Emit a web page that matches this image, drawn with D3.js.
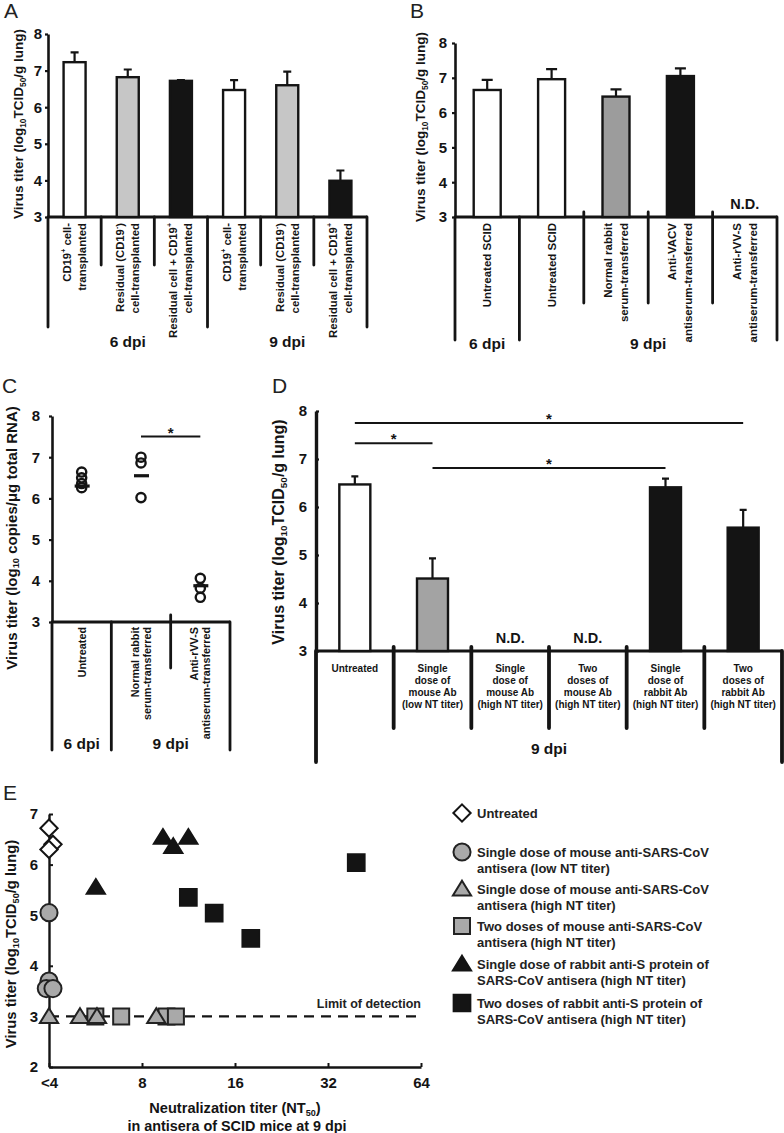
<!DOCTYPE html>
<html>
<head>
<meta charset="utf-8">
<title>Virus titer panels</title>
<script src="https://cdn.jsdelivr.net/npm/d3@7"></script>
<style>
  body{margin:0;background:#fff;}
  svg{display:block;font-family:"Liberation Sans",Arial,sans-serif;}
</style>
</head>
<body>
<div id="fig"></div>
<script>
// ---------- data ----------
// A
var aLabels = [["CD19^{+} cell-","transplanted"],["Residual (CD19^{-})","cell-transplanted"],["Residual cell + CD19^{+}","cell-transplanted"],
               ["CD19^{+} cell-","transplanted"],["Residual (CD19^{-})","cell-transplanted"],["Residual cell + CD19^{+}","cell-transplanted"]];
var aValues = [7.23, 6.82, 6.72, 6.47, 6.60, 3.99];
var aErrors = [7.50, 7.03, 6.74, 6.74, 6.97, 4.27];
var aKinds  = ["open","light","dark","open","light","dark"];
var aGroups = [["6 dpi",3],["9 dpi",3]];
// B
var bLabels = [["Untreated SCID"],["Untreated SCID"],["Normal rabbit","serum-transferred"],["Anti-VACV","antiserum-transferred"],["Anti-rVV-S","antiserum-transferred"]];
var bValues = [6.65, 6.96, 6.46, 7.05, null];
var bErrors = [6.94, 7.25, 6.67, 7.27, null];
var bKinds  = ["open","open","mid","dark","none"];
var bGroups = [["6 dpi",1],["9 dpi",4]];
// C
var cLabels = [["Untreated"],["Normal rabbit","serum-transferred"],["Anti-rVV-S","antiserum-transferred"]];
var cPoints = [[6.64, 6.50, 6.36, 6.26],[7.00, 6.86, 6.02],[4.06, 3.82, 3.60]];
var cMeans  = [6.30, 6.55, 3.88];
var cGroups = [["6 dpi",1],["9 dpi",2]];
var cSig    = [[1, 2, 7.5]];
// D
var dLabels = [["Untreated"],["Single","dose of","mouse Ab","(low NT titer)"],["Single","dose of","mouse Ab","(high NT titer)"],
               ["Two","doses of","mouse Ab","(high NT titer)"],["Single","dose of","rabbit Ab","(high NT titer)"],["Two","doses of","rabbit Ab","(high NT titer)"]];
var dValues = [6.47, 4.51, null, null, 6.41, 5.57];
var dErrors = [6.64, 4.93, null, null, 6.59, 5.94];
var dKinds  = ["open","mid","none","none","dark","dark"];
var dGroups = [["9 dpi",6]];
var dSig    = [[0, 5, 7.75],[0, 1, 7.33],[1, 4, 6.81]];
// E  (x = NT50, "<4" plotted at 4)
var eTicks      = [4, 8, 16, 32, 64];
var eTickLabels = ["<4","8","16","32","64"];
var eUntreated    = [[4, 6.72],[4.12, 6.40],[4, 6.30]];
var eMouseLow     = [[4, 5.05],[4, 3.70],[3.92, 3.55],[4.12, 3.55]];
var eMouseSingle  = [[4, 3.0],[5.04, 3.0],[5.72, 3.0],[8.9, 3.0]];
var eMouseTwo     = [[5.65, 3.0],[6.85, 3.0],[9.6, 3.0],[10.3, 3.0]];
var eRabbitSingle = [[9.35, 6.54],[10.1, 6.36],[11.3, 6.54],[5.67, 5.55]];
var eRabbitTwo    = [[11.3, 5.35],[13.7, 5.04],[18.0, 4.54],[39.5, 6.04]];
var eLimit = 3;
var eLegend = [["Untreated"],
               ["Single dose of mouse anti-SARS-CoV","antisera (low NT titer)"],
               ["Single dose of mouse anti-SARS-CoV","antisera (high NT titer)"],
               ["Two doses of mouse anti-SARS-CoV","antisera (high NT titer)"],
               ["Single dose of rabbit anti-S protein of","SARS-CoV antisera (high NT titer)"],
               ["Two doses of rabbit anti-S protein of","SARS-CoV antisera (high NT titer)"]];

// ---------- drawing ----------
var ink = "#141414";
var svg = d3.select("#fig").append("svg").attr("width", 784).attr("height", 1133);

// text with ^{sup} and _{sub}
function rich(t, str) {
  var re = /([_^])\{([^}]*)\}/g, last = 0, m;
  while ((m = re.exec(str))) {
    if (m.index > last) t.append("tspan").text(str.slice(last, m.index));
    t.append("tspan").attr("baseline-shift", m[1] == "^" ? "super" : "sub")
      .style("font-size", "0.62em").text(m[2]);
    last = re.lastIndex;
  }
  if (last < str.length) t.append("tspan").text(str.slice(last));
  return t;
}

function letter(x, y, s) {
  svg.append("text").attr("x", x).attr("y", y).attr("font-size", 21).attr("fill", "#222").text(s);
}

function frame(g) {
  var n = g.labels.length;
  var x = d3.scaleBand().domain(d3.range(n)).range([g.left, g.right]);
  var y = d3.scaleLinear().domain([3, 8]).range([g.base, g.top]);
  var p = svg.append("g");
  var edges = [0];
  g.groups.forEach(function(d){ edges.push(edges[edges.length - 1] + d[1]); });
  var bx = function(i){ return i < n ? x(i) : g.right; };

  p.selectAll(".sep").data(d3.range(n + 1)).enter().append("line")
    .attr("x1", bx).attr("x2", bx)
    .attr("y1", function(i){ return edges.indexOf(i) >= 0 ? g.base : g.sepTop; })
    .attr("y2", function(i){ return edges.indexOf(i) >= 0 ? g.longEnd : g.shortEnd; })
    .attr("stroke", ink).attr("stroke-width", g.sepW).attr("stroke-linecap", "round");
  p.append("line").attr("x1", g.left).attr("x2", g.right).attr("y1", g.base).attr("y2", g.base)
    .attr("stroke", ink).attr("stroke-width", 3);

  var ax = p.append("g").attr("transform", "translate(" + g.left + ",0)")
    .call(d3.axisLeft(y).ticks(5).tickSize(g.tick).tickPadding(g.pad).tickSizeOuter(0));
  ax.attr("font-family", null).attr("font-size", 15).attr("font-weight", "bold");
  ax.select(".domain").attr("stroke", ink).attr("stroke-width", g.axisW);
  ax.selectAll(".tick line").attr("stroke", ink).attr("stroke-width", 2.2);
  ax.selectAll(".tick text").attr("fill", ink);

  rich(p.append("text").attr("transform", "translate(" + g.titleX + "," + g.titleY + ") rotate(-90)")
    .attr("text-anchor", "middle").attr("dominant-baseline", "central")
    .attr("font-size", g.titleSize).attr("font-weight", "bold").attr("fill", ink), g.title);

  // category labels
  g.labels.forEach(function(lines, i){
    var c = x(i) + x.bandwidth() / 2, k = lines.length;
    lines.forEach(function(s, j){
      var t = p.append("text").attr("font-size", g.labelSize).attr("font-weight", "bold")
        .attr("fill", ink).attr("dominant-baseline", "central");
      if (g.rotate) {
        t.attr("transform", "translate(" + (c + (j - (k - 1) / 2) * g.lineGap) + "," + g.labelTop + ") rotate(-90)")
          .attr("text-anchor", "end");
      } else {
        t.attr("x", c).attr("y", g.labelTop + j * g.lineGap).attr("text-anchor", "middle");
      }
      rich(t, s);
    });
  });

  // group labels
  g.groups.forEach(function(d, i){
    var x0 = bx(edges[i]), x1 = bx(edges[i + 1]);
    p.append("text").attr("x", (x0 + x1) / 2).attr("y", g.groupY).attr("text-anchor", "middle")
      .attr("dominant-baseline", "central").attr("font-size", 15.5).attr("font-weight", "bold")
      .attr("fill", ink).text(d[0]);
  });
  return {x: x, y: y, p: p};
}

function bars(f, g, values, errors, kinds) {
  var fill = {open: "#fff", light: "#c6c6c6", mid: g.midFill || "#a3a3a3", dark: ink};
  var cx = function(i){ return f.x(i) + f.x.bandwidth() / 2; };
  var idx = d3.range(values.length).filter(function(i){ return values[i] != null; });
  f.p.selectAll(".err").data(idx).enter().append("path")
    .attr("d", function(i){
      var yt = f.y(errors[i]);
      return "M" + cx(i) + "," + f.y(values[i]) + "V" + yt + "M" + (cx(i) - g.cap / 2) + "," + yt + "H" + (cx(i) + g.cap / 2);
    })
    .attr("stroke", ink).attr("stroke-width", 2.2).attr("fill", "none");
  f.p.selectAll(".bar").data(idx).enter().append("rect")
    .attr("x", function(i){ return cx(i) - g.barW / 2; })
    .attr("width", g.barW)
    .attr("y", function(i){ return f.y(values[i]); })
    .attr("height", function(i){ return f.y(3) - f.y(values[i]); })
    .attr("fill", function(i){ return fill[kinds[i]]; })
    .attr("stroke", ink).attr("stroke-width", 2.4);
  var nd = d3.range(values.length).filter(function(i){ return values[i] == null; });
  f.p.selectAll(".nd").data(nd).enter().append("text")
    .attr("x", cx).attr("y", f.y(3) - 8).attr("text-anchor", "middle")
    .attr("font-size", 14.5).attr("font-weight", "bold").attr("fill", ink).text("N.D.");
}

function sig(f, list) {
  var cx = function(i){ return f.x(i) + f.x.bandwidth() / 2; };
  list.forEach(function(s){
    var yy = f.y(s[2]);
    f.p.append("line").attr("x1", cx(s[0])).attr("x2", cx(s[1])).attr("y1", yy).attr("y2", yy)
      .attr("stroke", ink).attr("stroke-width", 2);
    f.p.append("text").attr("x", (cx(s[0]) + cx(s[1])) / 2).attr("y", yy + 1).attr("text-anchor", "middle")
      .attr("font-size", 15).attr("font-weight", "bold").attr("fill", ink).text("*");
  });
}

// ---- A ----
letter(4, 18, "A");
var fa = frame({left: 48, right: 367, top: 34, base: 217, labels: aLabels, groups: aGroups,
  sepTop: 217, shortEnd: 265, longEnd: 327, sepW: 2.8, tick: 3, pad: 3, axisW: 2.6,
  title: "Virus titer (log_{10}TCID_{50}/g lung)", titleX: 18, titleY: 124, titleSize: 13.5,
  rotate: true, labelSize: 11.3, lineGap: 15, labelTop: 223, groupY: 341});
bars(fa, {barW: 22, cap: 8}, aValues, aErrors, aKinds);

// ---- B ----
letter(410, 18, "B");
var fb = frame({left: 455, right: 777, top: 43, base: 217, labels: bLabels, groups: bGroups,
  sepTop: 212, shortEnd: 303, longEnd: 340, sepW: 2.8, tick: 3, pad: 5, axisW: 2.6,
  title: "Virus titer (log_{10}TCID_{50}/g lung)", titleX: 420, titleY: 127, titleSize: 13.5,
  rotate: true, labelSize: 11.5, lineGap: 16, labelTop: 223, groupY: 343});
bars(fb, {barW: 27, cap: 11, midFill: "#9c9c9c"}, bValues, bErrors, bKinds);

// ---- C ----
letter(2, 393, "C");
var fc = frame({left: 52, right: 230, top: 416, base: 622, labels: cLabels, groups: cGroups,
  sepTop: 615, shortEnd: 668, longEnd: 750, sepW: 2.8, tick: 3, pad: 9, axisW: 2.6,
  title: "Virus titer (log_{10} copies/μg total RNA)", titleX: 11, titleY: 538, titleSize: 15,
  rotate: true, labelSize: 10.8, lineGap: 12, labelTop: 627, groupY: 743});
(function(){
  var cx = function(i){ return fc.x(i) + fc.x.bandwidth() / 2; };
  cPoints.forEach(function(pts, i){
    fc.p.selectAll(null).data(pts).enter().append("circle")
      .attr("cx", cx(i)).attr("cy", function(d){ return fc.y(d); }).attr("r", 4.6)
      .attr("fill", "none").attr("stroke", ink).attr("stroke-width", 2.4);
  });
  fc.p.selectAll(".mean").data(cMeans).enter().append("line")
    .attr("x1", function(d, i){ return cx(i) - 7; }).attr("x2", function(d, i){ return cx(i) + 8; })
    .attr("y1", function(d){ return fc.y(d); }).attr("y2", function(d){ return fc.y(d); })
    .attr("stroke", ink).attr("stroke-width", 3.2);
})();
sig(fc, cSig);

// ---- D ----
letter(272, 393, "D");
var fd = frame({left: 316, right: 782, top: 411, base: 651, labels: dLabels, groups: dGroups,
  sepTop: 647, shortEnd: 728, longEnd: 762, sepW: 3.8, tick: -3, pad: 9, axisW: 3.4,
  title: "Virus titer (log_{10}TCID_{50}/g lung)", titleX: 278, titleY: 532, titleSize: 16,
  rotate: false, labelSize: 10, lineGap: 12, labelTop: 668, groupY: 748});
bars(fd, {barW: 31, cap: 7}, dValues, dErrors, dKinds);
sig(fd, dSig);

// ---- E ----
letter(3, 800, "E");
(function(){
  var x = d3.scaleLog().base(2).domain([4, 64]).range([49, 421]);
  var y = d3.scaleLinear().domain([2, 7]).range([1067, 814]);
  var p = svg.append("g");

  var xa = p.append("g").attr("transform", "translate(0,1067)")
    .call(d3.axisBottom(x).tickValues(eTicks).tickFormat(function(d, i){ return eTickLabels[i]; })
      .tickSize(-4).tickPadding(10).tickSizeOuter(0));
  var ya = p.append("g").attr("transform", "translate(49,0)")
    .call(d3.axisLeft(y).ticks(5).tickSize(-4).tickPadding(11).tickSizeOuter(0));
  [xa, ya].forEach(function(a){
    a.attr("font-family", null).attr("font-size", 15).attr("font-weight", "bold");
    a.select(".domain").attr("stroke", ink).attr("stroke-width", 2.4);
    a.selectAll(".tick line").attr("stroke", ink).attr("stroke-width", 2);
    a.selectAll(".tick text").attr("fill", ink);
  });

  p.append("line").attr("x1", 49).attr("x2", 421).attr("y1", y(eLimit)).attr("y2", y(eLimit))
    .attr("stroke", ink).attr("stroke-width", 2.4).attr("stroke-dasharray", "10,7");
  p.append("text").attr("x", 421).attr("y", y(eLimit) - 8).attr("text-anchor", "end")
    .attr("font-size", 12.5).attr("font-weight", "bold").attr("fill", "#222").text("Limit of detection");

  rich(p.append("text").attr("transform", "translate(11,944) rotate(-90)").attr("text-anchor", "middle")
    .attr("dominant-baseline", "central").attr("font-size", 14.8).attr("font-weight", "bold").attr("fill", ink),
    "Virus titer (log_{10}TCID_{50}/g lung)");
  rich(p.append("text").attr("x", 235).attr("y", 1108).attr("text-anchor", "middle").attr("dominant-baseline", "central")
    .attr("font-size", 14.6).attr("font-weight", "bold").attr("fill", ink), "Neutralization titer (NT_{50})");
  p.append("text").attr("x", 237).attr("y", 1126).attr("text-anchor", "middle").attr("dominant-baseline", "central")
    .attr("font-size", 14.4).attr("font-weight", "bold").attr("fill", ink).text("in antisera of SCID mice at 9 dpi");

  var diamond = {draw: function(c, s){ var h = Math.sqrt(s) / 2; c.moveTo(0, -h); c.lineTo(h, 0); c.lineTo(0, h); c.lineTo(-h, 0); c.closePath(); }};
  var tri = {draw: function(c, s){ var w = Math.sqrt(s) / 2; c.moveTo(0, -w * 0.95); c.lineTo(w * 1.05, w * 0.75); c.lineTo(-w * 1.05, w * 0.75); c.closePath(); }};
  var gray = "#a9a9a9";
  var series = [
    {pts: eUntreated,    type: diamond,          size: 300, fill: "#fff", stroke: ink},
    {pts: eMouseLow,     type: d3.symbolCircle,  size: 230, fill: gray,   stroke: "#222"},
    {pts: eMouseTwo,     type: d3.symbolSquare,  size: 256, fill: gray,   stroke: "#222"},
    {pts: eMouseSingle,  type: tri,              size: 300, fill: gray,   stroke: "#222"},
    {pts: eRabbitSingle, type: tri,              size: 300, fill: ink,    stroke: ink},
    {pts: eRabbitTwo,    type: d3.symbolSquare,  size: 280, fill: ink,    stroke: ink}
  ];
  series.forEach(function(s){
    p.selectAll(null).data(s.pts).enter().append("path")
      .attr("transform", function(d){ return "translate(" + x(d[0]) + "," + y(d[1]) + ")"; })
      .attr("d", d3.symbol().type(s.type).size(s.size))
      .attr("fill", s.fill).attr("stroke", s.stroke).attr("stroke-width", 2);
  });

  // legend (order follows the legend, not draw order)
  var legOrder = [0, 1, 3, 2, 4, 5];
  var legY = [813, 852, 889, 926, 964, 1003];
  eLegend.forEach(function(lines, i){
    var s = series[legOrder[i]];
    p.append("path").attr("transform", "translate(462," + legY[i] + ")")
      .attr("d", d3.symbol().type(s.type).size(s.size))
      .attr("fill", s.fill).attr("stroke", s.stroke).attr("stroke-width", 2);
    lines.forEach(function(t, j){
      p.append("text").attr("x", 477).attr("y", legY[i] + j * 16).attr("dominant-baseline", "central")
        .attr("font-size", 13).attr("font-weight", "bold").attr("fill", "#222").text(t);
    });
  });
})();
</script>
</body>
</html>
